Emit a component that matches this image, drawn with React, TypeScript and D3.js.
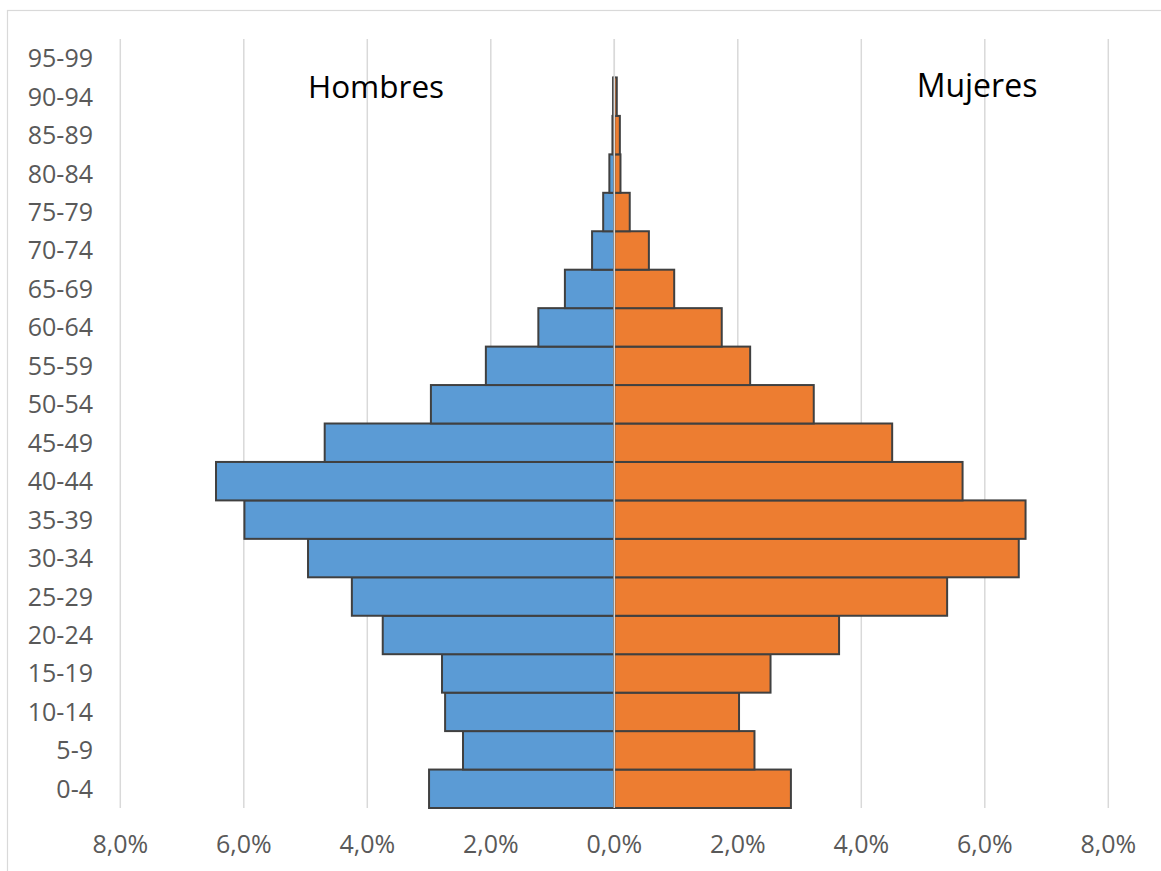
import React from "react";
import * as d3 from "d3";

const ageGroups = ["0-4","5-9","10-14","15-19","20-24","25-29","30-34","35-39","40-44","45-49","50-54","55-59","60-64","65-69","70-74","75-79","80-84","85-89","90-94","95-99"];
const hombres = [3.0,2.45,2.74,2.79,3.75,4.25,4.96,5.99,6.45,4.69,2.97,2.08,1.23,0.8,0.36,0.18,0.08,0.03,0.02,0.0];
const mujeres = [2.86,2.27,2.02,2.53,3.64,5.39,6.55,6.66,5.64,4.5,3.23,2.2,1.74,0.97,0.56,0.25,0.1,0.09,0.04,0.0];
const xTicks = [-8,-6,-4,-2,0,2,4,6,8];

const W = 1161, H = 871;
const font = "'Open Sans', sans-serif";

export default function App() {
  const x = d3.scaleLinear().domain([-8, 8]).range([120.3, 1108.3]);
  const y = d3.scaleBand<string>().domain([...ageGroups].reverse()).range([39, 808]).paddingInner(0).paddingOuter(0);
  const fmt = (v: number) => Math.abs(v).toFixed(1).replace(".", ",") + "%";
  const bw = y.bandwidth();
  return (
    <svg width={W} height={H} style={{ position: "absolute", left: 0, top: 0, background: "#fff" }}>
      <rect x={7.5} y={10.5} width={W + 10} height={H + 10} fill="#fff" stroke="#d9d9d9" strokeWidth={1.2} />
      {xTicks.map(t => (
        <line key={"g" + t} x1={x(t)} x2={x(t)} y1={39} y2={808} stroke="#d9d9d9" strokeWidth={1.5} />
      ))}
      {ageGroups.map((g, i) => (
        <g key={"b" + g}>
          {hombres[i] > 0 && (
            <rect x={x(-hombres[i])} y={y(g)!} width={x(0) - x(-hombres[i])} height={bw}
              fill="#5b9bd5" stroke="#404040" strokeWidth={2} />
          )}
          {mujeres[i] > 0 && (
            <rect x={x(0)} y={y(g)!} width={x(mujeres[i]) - x(0)} height={bw}
              fill="#ed7d31" stroke="#404040" strokeWidth={2} />
          )}
        </g>
      ))}
      <line x1={x(0)} x2={x(0)} y1={39} y2={808} stroke="#d9d9d9" strokeWidth={1.5} />
      {ageGroups.map(g => (
        <text key={"l" + g} x={93} y={y(g)! + bw / 2 + 9} textAnchor="end" fontFamily={font} fontSize={25} fill="#595959">{g}</text>
      ))}
      {xTicks.map(t => (
        <text key={"t" + t} x={x(t)} y={853} textAnchor="middle" fontFamily={font} fontSize={25} fill="#595959">{fmt(t)}</text>
      ))}
      <text x={376} y={98} textAnchor="middle" fontFamily={font} fontSize={31.5} fill="#000">Hombres</text>
      <text x={977} y={97} textAnchor="middle" fontFamily={font} fontSize={32} fill="#000">Mujeres</text>
    </svg>
  );
}
